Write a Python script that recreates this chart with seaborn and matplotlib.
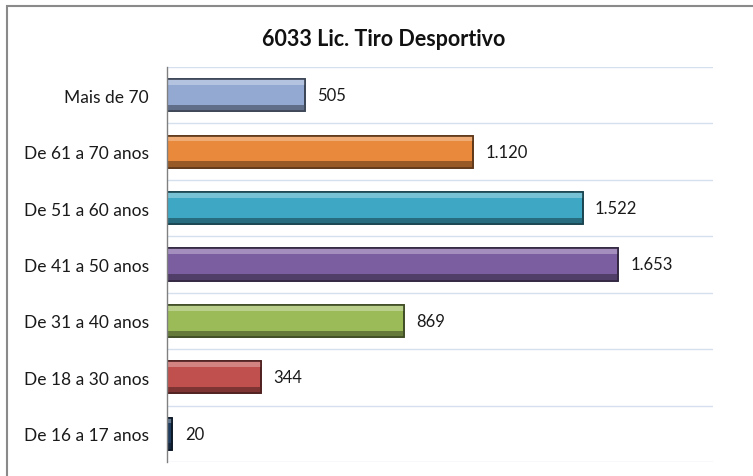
import matplotlib
matplotlib.use("Agg")
import matplotlib.pyplot as plt
import matplotlib.patches as mpatches
import seaborn as sns
import pandas as pd
import numpy as np

categories = ["Mais de 70", "De 61 a 70 anos", "De 51 a 60 anos", "De 41 a 50 anos",
              "De 31 a 40 anos", "De 18 a 30 anos", "De 16 a 17 anos"]
values = [505, 1120, 1522, 1653, 869, 344, 20]
value_labels = ["505", "1.120", "1.522", "1.653", "869", "344", "20"]
colors = ["#93a9d2", "#e8893b", "#3ea8c4", "#7b5ea0", "#9bbb59", "#c0504d", "#1f3c5e"]
title = "6033 Lic. Tiro Desportivo"

df = pd.DataFrame({"cat": categories, "val": values})

sns.set_theme(style="white")
plt.rcParams['font.family'] = ['Lato', 'DejaVu Sans']

fig = plt.figure(figsize=(7.53, 4.77), dpi=100)
ax = fig.add_axes([167/753, 1-463/477, (713-167)/753, (463-68)/477])

sns.barplot(data=df, y="cat", x="val", hue="cat", palette=colors, legend=False,
            orient="h", width=0.57, ax=ax, saturation=1)

def shade(c, f):
    rgb = np.array(matplotlib.colors.to_rgb(c))
    if f < 0:
        return tuple(rgb * (1 + f))
    return tuple(rgb + (1 - rgb) * f)

for p, c in zip(ax.patches, colors):
    x0, y0 = p.get_x(), p.get_y()
    w, h = p.get_width(), p.get_height()
    p.set_edgecolor(shade(c, -0.6))
    p.set_linewidth(1.2)
    z = p.get_zorder()
    # bevel: dark bottom band, light top band
    ax.add_patch(mpatches.Rectangle((x0, y0 + h*0.8), w, h*0.2,
                                    facecolor=shade(c, -0.35), edgecolor="none", zorder=z+0.1))
    ax.add_patch(mpatches.Rectangle((x0, y0), w, h*0.18,
                                    facecolor=shade(c, 0.3), edgecolor="none", zorder=z+0.1))
    ax.add_patch(mpatches.Rectangle((x0, y0), w, h,
                                    facecolor="none", edgecolor=shade(c, -0.6), linewidth=1.2,
                                    zorder=z+0.2))

for i, (v, lab) in enumerate(zip(values, value_labels)):
    ax.annotate(lab, xy=(v, i), xytext=(9, 0), textcoords="offset points",
                va="center", ha="left", fontsize=12, color="#1a1a1a")

ax.set_xlim(0, 2000)
ax.set_ylim(6.5, -0.5)
ax.set_xlabel("")
ax.set_ylabel("")
ax.set_xticks([])
ax.set_yticks(range(len(categories)))
ax.set_yticklabels(categories, fontsize=12.5, color="#1a1a1a")
ax.tick_params(axis="y", length=0, pad=13)
for b in np.arange(-0.5, 7, 1):
    ax.axhline(b, color="#d5e0ef", linewidth=1.0, zorder=0)
for s in ["top", "right", "bottom"]:
    ax.spines[s].set_visible(False)
ax.spines["left"].set_color("#808080")
ax.spines["left"].set_linewidth(1.0)

fig.text(384/753, 1-40/477, title, ha="center", va="center", fontsize=15.5, fontweight="bold",
         color="#111111")

# chart border (top and left visible)
fig.add_artist(mpatches.Rectangle((7/753, -0.1), 1.2, 1 + 0.1 - 7/477, transform=fig.transFigure,
                                  facecolor="none", edgecolor="#8a8a8a", linewidth=1.5))

fig.savefig("out.png", dpi=100)
